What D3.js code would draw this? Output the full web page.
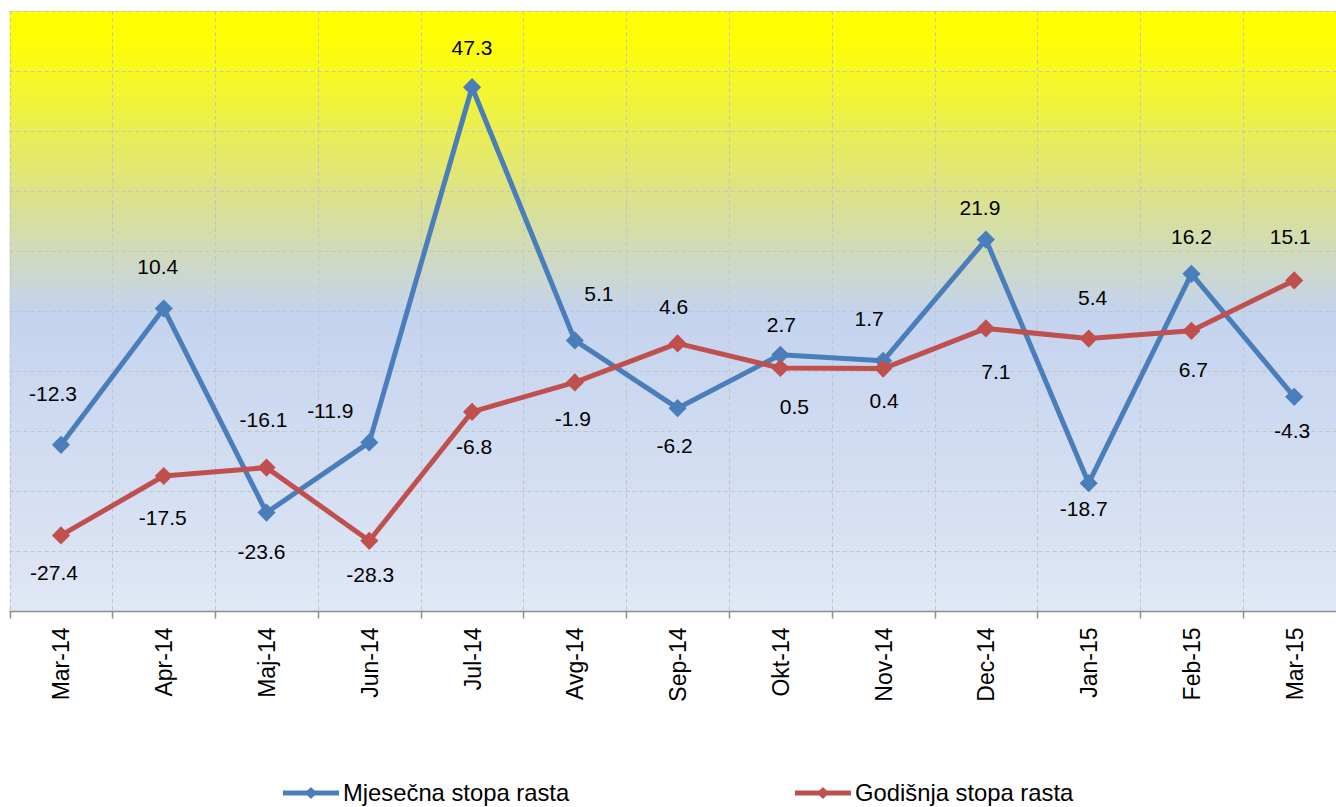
<!DOCTYPE html>
<html>
<head>
<meta charset="utf-8">
<script src="https://cdn.jsdelivr.net/npm/d3@7"></script>
<style>
  body { margin: 0; background: #fff; }
  text { font-family: Arial, "Liberation Sans", sans-serif; fill: #000; }
</style>
</head>
<body>
<div id="canvas"></div>
<script>
const canvas = d3.select("#canvas");

// data
const months = ["Mar-14", "Apr-14", "Maj-14", "Jun-14", "Jul-14", "Avg-14", "Sep-14",
    "Okt-14", "Nov-14", "Dec-14", "Jan-15", "Feb-15", "Mar-15"];
const mjesecna = [-12.3, 10.4, -23.6, -11.9, 47.3, 5.1, -6.2, 2.7, 1.7, 21.9, -18.7, 16.2, -4.3];
const godisnja = [-27.4, -17.5, -16.1, -28.3, -6.8, -1.9, 4.6, 0.5, 0.4, 7.1, 5.4, 6.7, 15.1];
const seriesNames = ["Mjesečna stopa rasta", "Godišnja stopa rasta"];

// where each data label sits, relative to its point (label centre)
const blueLabelOff = [[-8, -51], [-6, -42], [-5, 39], [-39, -32], [0, -40], [24, -47], [-3, 37],
    [1, -30], [-14, -42], [-6, -32], [-5, 25], [0, -37], [-2, 34]];
const redLabelOff = [[-7, 37], [-1, 41], [-3, -48], [1, 34], [2, 35], [-2, 36], [-4, -37],
    [14, 38], [1, 32], [10, 43], [4, -41], [2, 39], [-4, -44]];

const width = 1336;
const height = 807;
const plot = { left: 9.6, top: 11, right: 1345.6, bottom: 611 };

const svg = canvas.append("svg");
svg.attr("width", width);
svg.attr("height", height);

const defs = svg.append("defs");
const grad = defs.append("linearGradient")
    .attr("id", "bg")
    .attr("x1", 0).attr("y1", 0).attr("x2", 0).attr("y2", 1);
[[0, "#FFFF00"], [0.05, "#FEFE05"], [0.3, "#DDE386"], [0.5, "#C4D3EE"], [1, "#E0E7F5"]]
    .forEach(s => grad.append("stop").attr("offset", s[0]).attr("stop-color", s[1]));

const x = d3.scaleBand()
    .domain(months)
    .range([plot.left, plot.right])
    .padding(0);

const y = d3.scaleLinear()
    .domain([-40, 60])
    .range([plot.bottom, plot.top]);

const cx = m => x(m) + x.bandwidth() / 2;

svg.append("rect")
    .attr("x", plot.left)
    .attr("y", plot.top)
    .attr("width", plot.right - plot.left)
    .attr("height", plot.bottom - plot.top)
    .style("fill", "url(#bg)");

// dashed grid
const grid = svg.append("g")
    .style("stroke", "#c4c4c4")
    .style("stroke-width", 1)
    .style("stroke-dasharray", "4,3");

grid.selectAll("line.h").data(y.ticks(10).filter(t => t > -40)).enter().append("line")
    .attr("class", "h")
    .attr("x1", plot.left).attr("x2", plot.right)
    .attr("y1", d => Math.round(y(d)) + 0.5).attr("y2", d => Math.round(y(d)) + 0.5);

grid.selectAll("line.v").data(months).enter().append("line")
    .attr("class", "v")
    .attr("x1", d => Math.round(x(d)) + 0.5).attr("x2", d => Math.round(x(d)) + 0.5)
    .attr("y1", plot.top).attr("y2", plot.bottom);

// x axis
const xAxis = svg.append("g")
    .attr("transform", `translate(0, ${plot.bottom + 0.5})`);
xAxis.append("line")
    .attr("x1", plot.left).attr("x2", plot.right)
    .style("stroke", "#8c8c8c").style("stroke-width", 1.5);
xAxis.selectAll("line.tick").data(months).enter().append("line")
    .attr("class", "tick")
    .attr("x1", d => Math.round(x(d)) + 0.5).attr("x2", d => Math.round(x(d)) + 0.5)
    .attr("y1", 0).attr("y2", 7)
    .style("stroke", "#8c8c8c").style("stroke-width", 1.5);
xAxis.selectAll("text").data(months).enter().append("text")
    .attr("transform", d => `translate(${cx(d) + 8.5}, 16) rotate(-90)`)
    .attr("text-anchor", "end")
    .style("font-size", "23px")
    .text(d => d);

// lines, markers, labels
const line = d3.line()
    .x(d => cx(d.m))
    .y(d => y(d.v));

const diamond = d3.symbol().type(d3.symbolSquare).size(165);

function drawSeries(values, color, offs) {
    const pts = months.map((m, i) => ({ m: m, v: values[i], off: offs[i] }));
    const g = svg.append("g");
    g.append("path")
        .datum(pts)
        .attr("d", line)
        .style("fill", "none")
        .style("stroke", color)
        .style("stroke-width", 5)
        .style("stroke-linejoin", "round");
    g.selectAll("path.mk").data(pts).enter().append("path")
        .attr("class", "mk")
        .attr("d", diamond)
        .attr("transform", d => `translate(${cx(d.m)},${y(d.v)}) rotate(45)`)
        .style("fill", color);
    return pts;
}

const bluePts = drawSeries(mjesecna, "#4A7EBB", blueLabelOff);
const redPts = drawSeries(godisnja, "#C0504D", redLabelOff);

const labels = svg.append("g");
labels.selectAll("text").data(bluePts.concat(redPts)).enter().append("text")
    .attr("x", d => cx(d.m) + d.off[0])
    .attr("y", d => y(d.v) + d.off[1] + 7.5)
    .attr("text-anchor", "middle")
    .style("font-size", "21px")
    .text(d => d.v.toFixed(1));

// legend
const legendX = [283, 795];
const legendColors = ["#4A7EBB", "#C0504D"];
const legend = svg.append("g").attr("transform", "translate(0, 793)");
seriesNames.forEach((name, i) => {
    const lg = legend.append("g").attr("transform", `translate(${legendX[i]}, 0)`);
    lg.append("line")
        .attr("x1", 0).attr("x2", 56)
        .style("stroke", legendColors[i])
        .style("stroke-width", 5);
    lg.append("path")
        .attr("d", d3.symbol().type(d3.symbolSquare).size(75))
        .attr("transform", "translate(28,0) rotate(45)")
        .style("fill", legendColors[i]);
    lg.append("text")
        .attr("x", 60)
        .attr("y", 8)
        .style("font-size", "23.8px")
        .text(name);
});
</script>
</body>
</html>
